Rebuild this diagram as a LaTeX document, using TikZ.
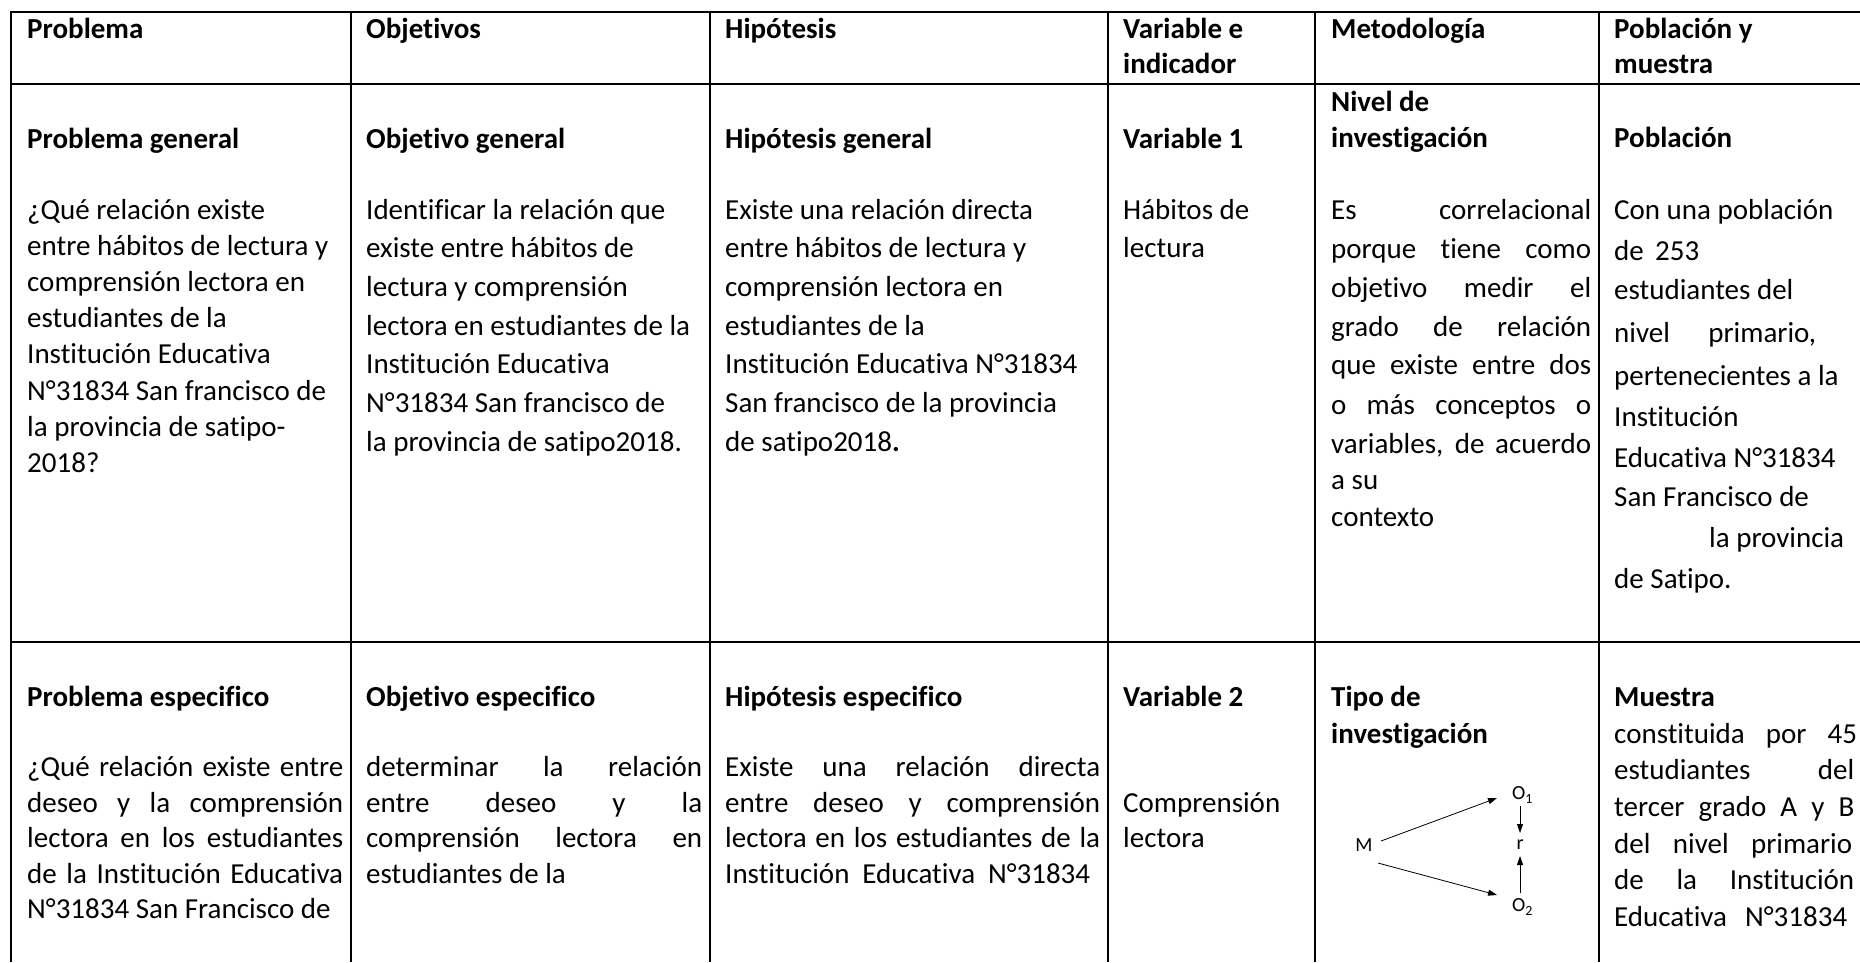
\documentclass[tikz,border=0pt]{standalone}
\usepackage{fontspec}
\setmainfont{Carlito}[Ligatures=NoCommon]
\usetikzlibrary{arrows.meta}
\newcommand\J[2]{\makebox[#1pt][s]{#2}}
\begin{document}
\begin{tikzpicture}[x=1pt,y=-1pt,
  tbl/.style={line width=2pt,black},
  txt/.style={anchor=base west,inner sep=0pt,font=\fontsize{29}{35}\selectfont},
  hd/.style={txt,font=\fontsize{29}{35}\selectfont\bfseries},
  dg/.style={inner sep=1pt,font=\fontsize{20}{24}\selectfont},
  arr/.style={-{Triangle[length=9pt,width=6pt]},line width=0.8pt}]
\useasboundingbox (0,0) rectangle (1860,962);
\fill[white] (0,0) rectangle (1860,962);
% table grid
\foreach \x in {11,351,710,1108,1315,1599} \draw[tbl] (\x,11) -- (\x,962);
\foreach \y in {12,84,642} \draw[tbl] (10,\y) -- (1860,\y);
% header
\node[hd] (h1) at (27,38) {Problema};
\node[hd] (h2) at (366,38) {Objetivos};
\node[hd] (h3) at (725,38) {Hipótesis};
\node[hd] (h4a) at (1123,38) {Variable e};
\node[hd] (h4b) at (1123,73) {indicador};
\node[hd] (h5) at (1331,38) {Metodología};
\node[hd] (h6a) at (1614,38) {Población y};
\node[hd] (h6b) at (1614,73) {muestra};
% row 2, col 1
\node[hd] (pg) at (27,148) {Problema general};
\foreach \t [count=\i from 0] in {¿Qué relación existe, entre hábitos de lectura y, comprensión lectora en, estudiantes de la, Institución Educativa, N°31834 San francisco de, la provincia de satipo-, 2018?}
  \node[txt] (pg\i) at (27,219+36.2*\i) {\t};
% row 2, col 2
\node[hd] (og) at (366,148) {Objetivo general};
\foreach \t [count=\i from 0] in {Identificar la relación que, existe entre hábitos de, lectura y comprensión, lectora en estudiantes de la, Institución Educativa, N°31834 San francisco de, la provincia de satipo2018.}
  \node[txt] (og\i) at (366,219+38.7*\i) {\t};
% row 2, col 3
\node[hd] (hg) at (725,148) {Hipótesis general};
\foreach \t [count=\i from 0] in {Existe una relación directa, entre hábitos de lectura y, comprensión lectora en, estudiantes de la, Institución Educativa N°31834, San francisco de la provincia, {de satipo2018\textbf{.}}}
  \node[txt] (hg\i) at (725,219+38.7*\i) {\t};
% row 2, col 4
\node[hd] (v1) at (1123,148) {Variable 1};
\node[txt] (v1a) at (1123,219) {Hábitos de};
\node[txt] (v1b) at (1123,257.7) {lectura};
% row 2, col 5
\node[hd] (ni1) at (1331,111.4) {Nivel de};
\node[hd] (ni2) at (1331,147.8) {investigación};
\foreach \y/\t [count=\i] in {219/{\J{260}{Es correlacional}}, 258.5/{\J{260}{porque tiene como}}, 297/{\J{260}{objetivo medir el}}, 336/{\J{260}{grado de relación}}, 374.5/{\J{260}{que existe entre dos}}, 414/{\J{260}{o más conceptos o}}, 453/{\J{260}{variables, de acuerdo}}, 489/{a su}, 526/{contexto}}
  \node[txt] (ni-\i) at (1331,\y) {\t};
% row 2, col 6
\node[hd] (pob) at (1614,147.8) {Población};
\foreach \y/\t [count=\i] in {219/{Con una población}, 260/{\J{85}{de 253}}, 299.6/{estudiantes del}, 342/{\J{202}{nivel primario,}}, 385/{pertenecientes a la}, 426/{Institución}, 467/{Educativa N°31834}, 506.6/{San Francisco de}, 588.7/{de Satipo.}}
  \node[txt] (pob-\i) at (1614,\y) {\t};
\node[txt] (pob-prov) at (1709,547.7) {la provincia};
% row 3, col 1
\node[hd] (pe) at (27,706) {Problema especifico};
\foreach \t [count=\i from 0] in {{\J{316}{¿Qué relación existe entre}}, {\J{316}{deseo y la comprensión}}, {\J{316}{lectora en los estudiantes}}, {\J{316}{de la Institución Educativa}}, N°31834 San Francisco de}
  \node[txt] (pe\i) at (27,776.8+35.4*\i) {\t};
% row 3, col 2
\node[hd] (oe) at (366,706) {Objetivo especifico};
\foreach \t [count=\i from 0] in {{\J{336}{determinar la relación}}, {\J{336}{entre deseo y la}}, {\J{336}{comprensión lectora en}}, estudiantes de la}
  \node[txt] (oe\i) at (366,776.8+35.4*\i) {\t};
% row 3, col 3
\node[hd] (he) at (725,706) {Hipótesis especifico};
\foreach \t [count=\i from 0] in {{\J{375}{Existe una relación directa}}, {\J{375}{entre deseo y comprensión}}, {\J{375}{lectora en los estudiantes de la}}, {\J{365}{Institución Educativa N°31834}}}
  \node[txt] (he\i) at (725,776.8+35.4*\i) {\t};
% row 3, col 4
\node[hd] (v2) at (1123,706) {Variable 2};
\node[txt] (v2a) at (1123,812.2) {Comprensión};
\node[txt] (v2b) at (1123,847.6) {lectora};
% row 3, col 5
\node[hd] (ti1) at (1331,706) {Tipo de};
\node[hd] (ti2) at (1331,743) {investigación};
% diagram
\node[dg] (M) at (1364,845) {M};
\node[dg,anchor=west] (O1) at (1511,795) {O\textsubscript{1}};
\node[dg] (r) at (1520,845) {r};
\node[dg,anchor=west] (O2) at (1511,907) {O\textsubscript{2}};
\draw[arr] ([shift={(17pt,4pt)}]M.center) -- ([shift={(-14pt,-3pt)}]O1.west);
\draw[arr] ([shift={(14pt,-18pt)}]M.center) -- ([shift={(-14pt,12pt)}]O2.west);
\draw[arr] ([shift={(9pt,-11pt)}]O1.west) -- ([yshift=12pt]r.center);
\draw[arr] ([shift={(9pt,14pt)}]O2.west) -- ([yshift=-11pt]r.center);
% row 3, col 6
\node[hd] (mu) at (1614,706) {Muestra};
\foreach \w/\t [count=\i from 0] in {243/{constituida por 45}, 240/{estudiantes del}, 240/{tercer grado A y B}, 238/{del nivel primario}, 240/{de la Institución}, 233/{Educativa N°31834}}
  \node[txt] (mu\i) at (1614,743+36.7*\i) {\J{\w}{\t}};
\end{tikzpicture}
\end{document}
